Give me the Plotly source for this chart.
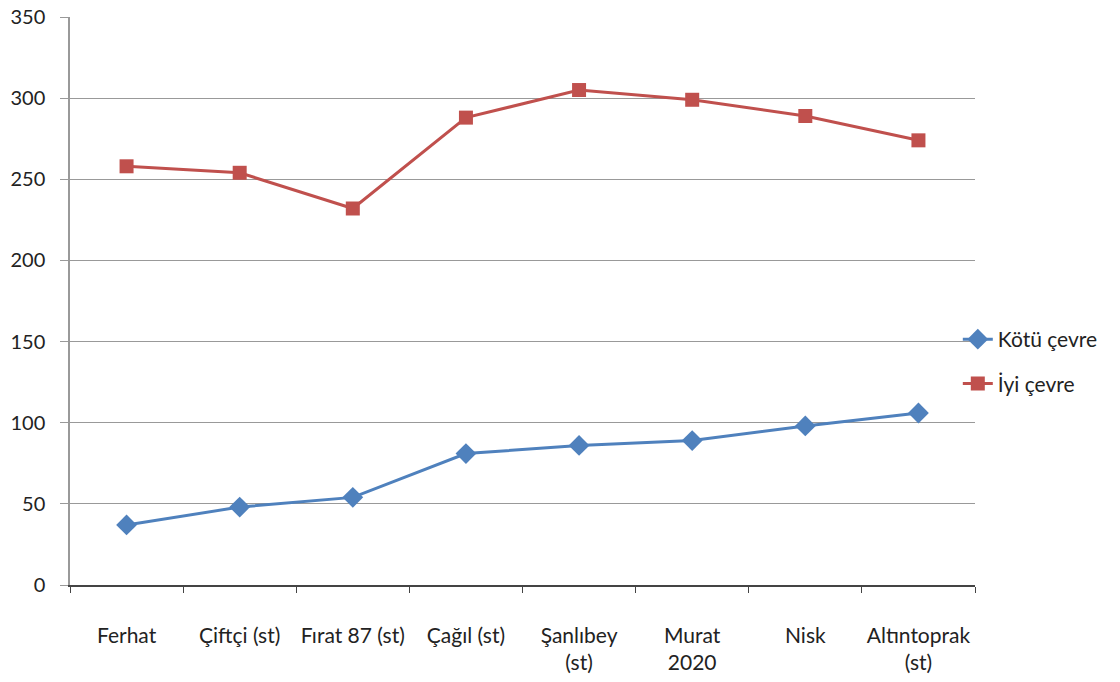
import plotly.graph_objects as go

categories = ["Ferhat", "Çiftçi (st)", "Fırat 87 (st)", "Çağıl (st)",
              "Şanlıbey<br>(st)", "Murat<br>2020", "Nisk", "Altıntoprak<br>(st)"]
kotu_cevre = [37, 48, 54, 81, 86, 89, 98, 106]
iyi_cevre = [258, 254, 232, 288, 305, 299, 289, 274]
y_ticks = [0, 50, 100, 150, 200, 250, 300, 350]

FONT = "Lato"
fig = go.Figure()
fig.add_trace(go.Scatter(
    x=categories, y=kotu_cevre, name="Kötü çevre", mode="lines+markers",
    line=dict(color="#4F81BD", width=3),
    marker=dict(symbol="diamond", size=16, color="#4F81BD"),
    legendgroup="a"))
fig.add_trace(go.Scatter(
    x=categories, y=iyi_cevre, name="İyi çevre", mode="lines+markers",
    line=dict(color="#C0504D", width=3),
    marker=dict(symbol="square", size=14, color="#C0504D"),
    legendgroup="b"))

fig.update_layout(
    width=1120, height=682,
    margin=dict(l=70, r=145, t=17, b=97),
    paper_bgcolor="white", plot_bgcolor="white",
    font=dict(family=FONT, size=22, color="#222222"),
    showlegend=True,
    legend=dict(x=0.981, xanchor="left", y=0.3935, yanchor="middle",
                tracegroupgap=14, font=dict(size=21, color="#222222"),
                bgcolor="rgba(0,0,0,0)"),
    xaxis=dict(type="category", tickson="boundaries", ticks="outside",
               ticklen=6, tickcolor="#444444", showline=True,
               linecolor="#444444", linewidth=1.5, showgrid=False,
               tickangle=0, ticklabeloverflow="allow",
               ticklabelstandoff=31, range=[-0.5, 7.5], automargin=False,
               tickfont=dict(size=21, color="#222222")),
    yaxis=dict(range=[0, 350], tickvals=y_ticks, ticks="outside", ticklen=8,
               tickcolor="#999999", showline=True, linecolor="#999999",
               linewidth=1.5, showgrid=True, gridcolor="#999999", gridwidth=1,
               zeroline=False, ticklabelstandoff=11, automargin=False,
               ticklabeloverflow="allow",
               tickfont=dict(size=20, color="#222222")),
)

fig.write_html("out.html",
               config={"displayModeBar": False},
               post_script="document.body.style.margin='0';"
                           "document.body.style.overflow='hidden';")
